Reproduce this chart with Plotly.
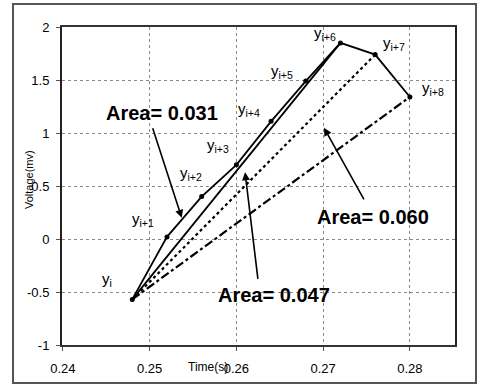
import plotly.graph_objects as go

# Data
times = [0.248, 0.252, 0.256, 0.260, 0.264, 0.268, 0.272, 0.276, 0.280]
volts = [-0.57, 0.02, 0.40, 0.70, 1.11, 1.49, 1.85, 1.74, 1.34]
point_labels = ["y<sub>i</sub>", "y<sub>i+1</sub>", "y<sub>i+2</sub>", "y<sub>i+3</sub>",
                "y<sub>i+4</sub>", "y<sub>i+5</sub>", "y<sub>i+6</sub>", "y<sub>i+7</sub>",
                "y<sub>i+8</sub>"]
label_x = [0.2451, 0.2492, 0.2548, 0.2579, 0.2615, 0.2653, 0.2702, 0.2782, 0.2827]
label_y = [-0.38, 0.18, 0.62, 0.88, 1.22, 1.58, 1.94, 1.84, 1.42]
area_texts = ["Area= 0.031", "Area= 0.047", "Area= 0.060"]
area_text_x = [0.2514, 0.2643, 0.2757]
area_text_y = [1.19, -0.53, 0.21]
arrow_head_x = [0.2537, 0.2610, 0.2701]
arrow_head_y = [0.20, 0.63, 1.05]
arrow_tail_x = [0.2503, 0.2625, 0.2748]
arrow_tail_y = [1.06, -0.39, 0.36]
x_ticks = [0.24, 0.25, 0.26, 0.27, 0.28]
y_ticks = [-1, -0.5, 0, 0.5, 1, 1.5, 2]

FONT = "Liberation Sans, Arial, Helvetica, sans-serif"
L, R, T, B = 62, 23, 27, 46
W, H = 478, 391
pw, ph = W - L - R, H - T - B


def px_to_paper_x(px):
    return (px - L) / pw


def px_to_paper_y(py):
    return (H - B - py) / ph


fig = go.Figure()

# chord lines from y_i
fig.add_trace(go.Scatter(x=[times[0], times[8]], y=[volts[0], volts[8]], mode="lines",
                         line=dict(color="black", width=2.2, dash="dashdot"), showlegend=False))
fig.add_trace(go.Scatter(x=[times[0], times[7]], y=[volts[0], volts[7]], mode="lines",
                         line=dict(color="black", width=2.2, dash="dot"), showlegend=False))
fig.add_trace(go.Scatter(x=[times[0], times[6]], y=[volts[0], volts[6]], mode="lines",
                         line=dict(color="black", width=1.8), showlegend=False))
# signal polyline
fig.add_trace(go.Scatter(x=times, y=volts, mode="lines+markers",
                         line=dict(color="black", width=1.8),
                         marker=dict(color="black", size=5), showlegend=False))

annotations = []
for t, xx, yy in zip(point_labels, label_x, label_y):
    annotations.append(dict(x=xx, y=yy, xref="x", yref="y", text=t, showarrow=False,
                            font=dict(family=FONT, size=15, color="black")))
for t, xx, yy in zip(area_texts, area_text_x, area_text_y):
    annotations.append(dict(x=xx, y=yy, xref="x", yref="y", text="<b>" + t + "</b>",
                            showarrow=False, font=dict(family=FONT, size=20, color="black")))
for hx, hy, tx, ty in zip(arrow_head_x, arrow_head_y, arrow_tail_x, arrow_tail_y):
    annotations.append(dict(x=hx, y=hy, ax=tx, ay=ty, xref="x", yref="y", axref="x", ayref="y",
                            text="", showarrow=True, arrowhead=2, arrowsize=1, arrowwidth=1.6,
                            arrowcolor="black"))
# axis titles
annotations.append(dict(x=px_to_paper_x(208), y=px_to_paper_y(376), xref="paper", yref="paper",
                        text="Time(s)", showarrow=False,
                        font=dict(family=FONT, size=12, color="black")))
annotations.append(dict(x=px_to_paper_x(21), y=px_to_paper_y(180), xref="paper", yref="paper",
                        text="Voltage(mv)", showarrow=False, textangle=-90,
                        font=dict(family=FONT, size=11, color="black")))

fig.update_layout(
    width=W, height=H,
    margin=dict(l=L, r=R, t=T, b=B),
    paper_bgcolor="white", plot_bgcolor="white",
    font=dict(family=FONT, size=12, color="black"),
    xaxis=dict(range=[0.2399, 0.2852], tickvals=x_ticks, ticktext=[str(v) for v in x_ticks],
               showgrid=True, gridcolor="#888", griddash="dot", gridwidth=1,
               showline=True, linecolor="#333", linewidth=2, mirror=True,
               ticks="outside", ticklen=4, tickcolor="#555", zeroline=False,
               ticklabelstandoff=6,
               tickfont=dict(size=13), automargin=False),
    yaxis=dict(range=[-1, 2], tickvals=y_ticks, ticktext=[str(v) for v in y_ticks],
               showgrid=True, gridcolor="#888", griddash="dot", gridwidth=1,
               showline=True, linecolor="#222", linewidth=2, mirror=True,
               ticks="outside", ticklen=4, tickcolor="#555", zeroline=False,
               ticklabelstandoff=4,
               tickfont=dict(size=13), automargin=False),
    annotations=annotations,
)

# outer frame
fig.add_shape(type="rect", xref="paper", yref="paper",
              x0=px_to_paper_x(13), x1=px_to_paper_x(476),
              y0=px_to_paper_y(383), y1=px_to_paper_y(4),
              line=dict(color="#555", width=2), fillcolor="rgba(0,0,0,0)", layer="below")

fig.write_html("out.html", config={"displayModeBar": False},
               post_script="document.body.style.margin='0';")
